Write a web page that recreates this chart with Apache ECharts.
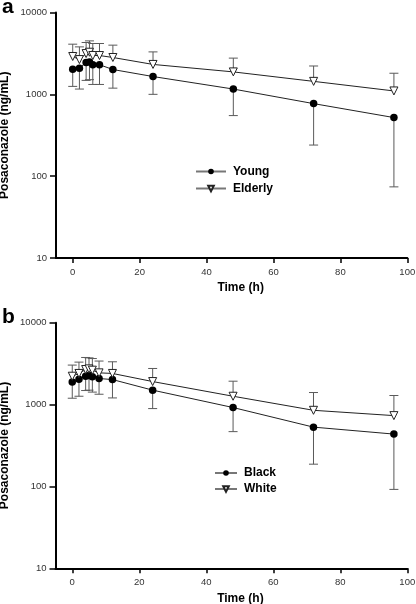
<!DOCTYPE html>
<html>
<head>
<meta charset="utf-8">
<script src="https://cdn.jsdelivr.net/npm/echarts@6/dist/echarts.min.js"></script>
<style>
html,body{margin:0;padding:0;background:#fff;}
#chart{width:416px;height:604px;}
</style>
</head>
<body>
<div id="chart"></div>
<script>
const times = [0, 2, 4, 5, 6, 8, 12, 24, 48, 72, 96];
const xTicks = [0, 20, 40, 60, 80, 100];
const yTicks = [10, 100, 1000, 10000];

// Panel a
const youngMean    = [2030, 2080, 2450, 2480, 2300, 2300, 2010, 1650, 1160, 770, 520];
const youngLower   = [1250, 1160, 1480, 1510, 1320, 1320, 1190, 1000, 550, 240, 74];
const elderlyMean  = [2900, 2660, 3150, 3270, 2980, 2980, 2820, 2320, 1880, 1440, 1100];
const elderlyUpper = [4100, 3800, 4300, 4500, 4180, 4180, 3990, 3300, 2770, 2220, 1810];

// Panel b
const blackMean  = [1880, 2040, 2220, 2270, 2180, 2080, 2020, 1500, 920, 530, 436];
const blackLower = [1195, 1264, 1484, 1500, 1420, 1337, 1205, 893, 467, 187, 92];
const whiteMean  = [2220, 2400, 2680, 2730, 2630, 2440, 2400, 1910, 1264, 851, 733];
const whiteUpper = [3036, 3300, 3760, 3720, 3650, 3400, 3330, 2760, 1930, 1403, 1290];

const FONT = '"Liberation Sans", Arial, Helvetica, sans-serif';

function pairs(xs, ys) { return xs.map((x, i) => [x, ys[i]]); }
function errData(xs, m, e) { return xs.map((x, i) => [x, m[i], e[i]]); }

function errRender(params, api) {
  const x = api.value(0), v = api.value(1), e = api.value(2);
  const p1 = api.coord([x, v]);
  const p2 = api.coord([x, e]);
  const w = 4.5;
  const st = { stroke: '#5a5a5a', lineWidth: 1 };
  return {
    type: 'group',
    children: [
      { type: 'line', shape: { x1: p1[0], y1: p1[1], x2: p2[0], y2: p2[1] }, style: st },
      { type: 'line', shape: { x1: p2[0] - w, y1: p2[1], x2: p2[0] + w, y2: p2[1] }, style: st }
    ]
  };
}

function xAxisCfg(gi) {
  return {
    gridIndex: gi, type: 'value', min: -5, max: 100,
    name: 'Time (h)', nameLocation: 'middle', nameGap: 24, nameMoveOverlap: false,
    nameTextStyle: { fontFamily: FONT, fontSize: 12, fontWeight: 'bold', color: '#000', padding: [0, 0, 0, 18] },
    axisLine: { onZero: false, lineStyle: { color: '#000', width: 2 } },
    axisTick: { show: true, length: 5, customValues: xTicks, lineStyle: { color: '#000', width: 1.5 } },
    axisLabel: { customValues: xTicks, fontFamily: FONT, fontSize: 9.5, color: '#333', margin: 9 },
    splitLine: { show: false }
  };
}
function yAxisCfg(gi) {
  return {
    gridIndex: gi, type: 'log', logBase: 10, min: 10, max: 10000,
    name: 'Posaconazole (ng/mL)', nameLocation: 'middle', nameGap: 45, nameMoveOverlap: false,
    nameTextStyle: { fontFamily: FONT, fontSize: 12, fontWeight: 'bold', color: '#000' },
    axisLine: { show: true, onZero: false, lineStyle: { color: '#000', width: 2 } },
    axisTick: { show: true, length: 6, customValues: yTicks, lineStyle: { color: '#000', width: 1.5 } },
    axisLabel: { customValues: yTicks, fontFamily: FONT, fontSize: 9.5, color: '#333', margin: 9,
      formatter: v => String(Math.round(v)) },
    minorTick: { show: false },
    splitLine: { show: false }
  };
}

function lineSeries(name, gi, data, filled) {
  return {
    name: name, type: 'line', xAxisIndex: gi, yAxisIndex: gi,
    data: data, z: 5,
    symbol: filled ? 'circle' : 'triangle',
    symbolRotate: filled ? 0 : 180,
    symbolSize: filled ? 7.5 : 8,
    itemStyle: filled ? { color: '#000', borderColor: '#000', borderWidth: 0 }
                      : { color: '#fff', borderColor: '#222', borderWidth: 1 },
    lineStyle: { color: '#222', width: 1 },
    emphasis: { disabled: true },
    animation: false
  };
}
function errSeries(gi, data) {
  return {
    type: 'custom', xAxisIndex: gi, yAxisIndex: gi, z: 3,
    renderItem: errRender, data: data, encode: { x: 0, y: [1, 2] },
    silent: true, animation: false
  };
}

const legendText = { fontFamily: FONT, fontSize: 12, fontWeight: 'bold', color: '#000', lineHeight: 14, padding: [0, 0, 0, 2] };

const option = {
  backgroundColor: '#fff',
  animation: false,
  grid: [
    { left: 56, top: 12.5, width: 351.3, height: 245.5, containLabel: false, outerBoundsMode: 'none' },
    { left: 55.5, top: 322.7, width: 351.8, height: 245.6, containLabel: false, outerBoundsMode: 'none' }
  ],
  xAxis: [xAxisCfg(0), xAxisCfg(1)],
  yAxis: [yAxisCfg(0), yAxisCfg(1)],
  legend: [
    { data: ['Young', 'Elderly'], orient: 'vertical', left: 190, top: 159.5,
      itemWidth: 30, itemHeight: 7, itemGap: 3, textStyle: legendText,
      lineStyle: { color: '#777' }, selectedMode: false },
    { data: ['Black', 'White'], orient: 'vertical', left: 209, top: 461,
      itemWidth: 22, itemHeight: 7, itemGap: 2, textStyle: legendText,
      lineStyle: { color: '#777' }, selectedMode: false }
  ],
  graphic: [
    { type: 'text', left: 2, top: -3, style: { text: 'a', font: 'bold 21px ' + FONT, fill: '#000' } },
    { type: 'text', left: 2, top: 307, style: { text: 'b', font: 'bold 21px ' + FONT, fill: '#000' } }
  ],
  series: [
    errSeries(0, errData(times, youngMean, youngLower)),
    errSeries(0, errData(times, elderlyMean, elderlyUpper)),
    lineSeries('Young', 0, pairs(times, youngMean), true),
    lineSeries('Elderly', 0, pairs(times, elderlyMean), false),
    errSeries(1, errData(times, blackMean, blackLower)),
    errSeries(1, errData(times, whiteMean, whiteUpper)),
    lineSeries('Black', 1, pairs(times, blackMean), true),
    lineSeries('White', 1, pairs(times, whiteMean), false)
  ]
};

const chart = echarts.init(document.getElementById('chart'), null, { renderer: 'canvas' });
chart.setOption(option);
</script>
</body>
</html>
